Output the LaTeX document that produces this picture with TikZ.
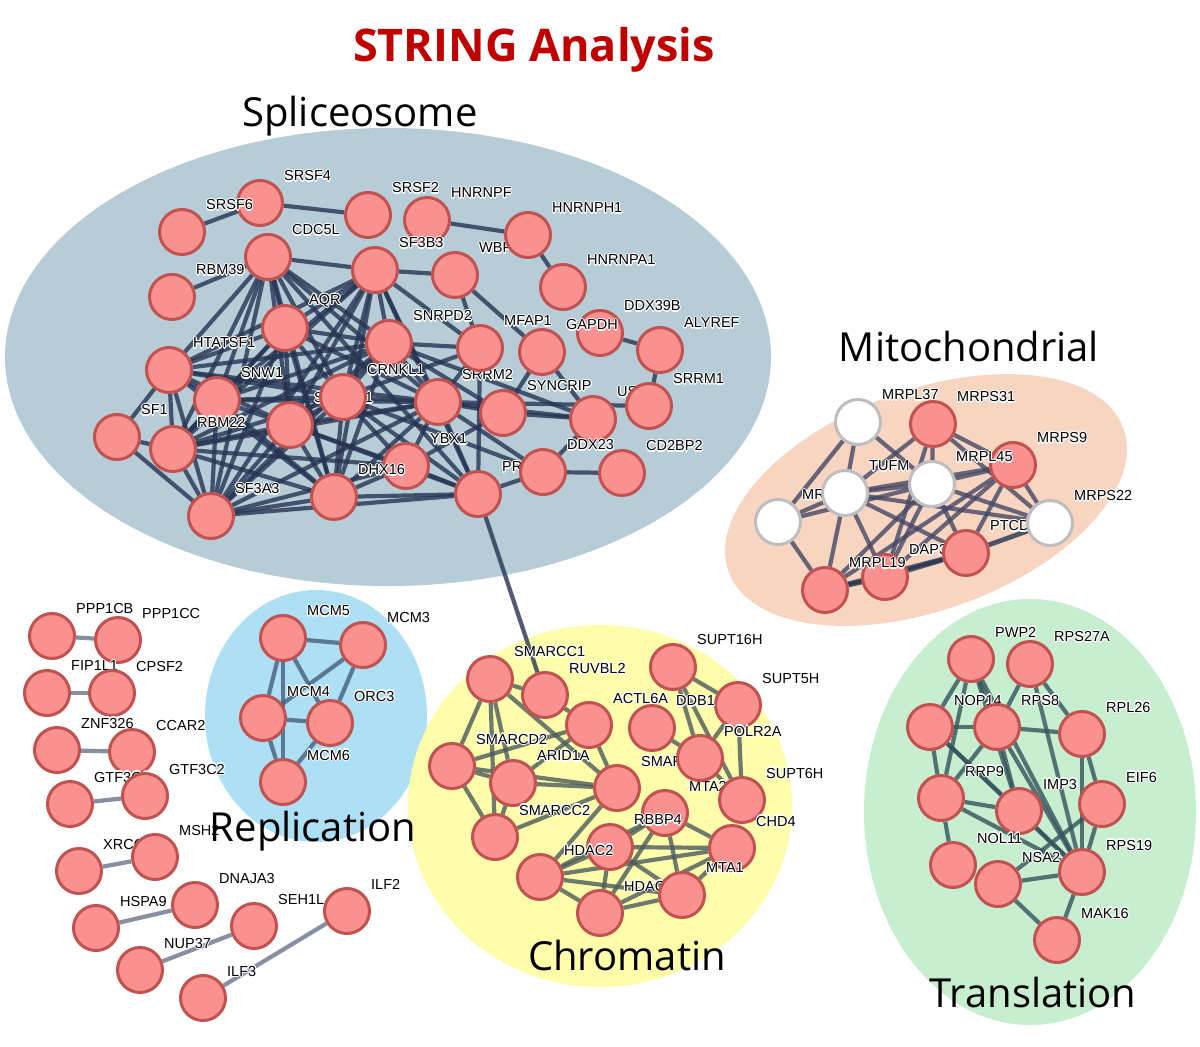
\documentclass[tikz,border=0pt]{standalone}
\usepackage{fontspec}
\setmainfont{Liberation Sans}
\newfontfamily\grpfont{Open Sans}
\pgfdeclarelayer{bg}
\pgfdeclarelayer{edges}
\pgfsetlayers{bg,edges,main}
\definecolor{nfill}{RGB}{250,145,145}
\definecolor{nedge}{RGB}{194,82,80}
\definecolor{wedge}{RGB}{190,190,190}
\definecolor{splfill}{RGB}{182,205,216}
\definecolor{mitfill}{RGB}{248,213,193}
\definecolor{repfill}{RGB}{173,224,245}
\definecolor{chrfill}{RGB}{253,253,170}
\definecolor{trafill}{RGB}{199,239,207}
\definecolor{spe}{RGB}{38,52,82}
\definecolor{mie}{RGB}{68,72,102}
\definecolor{rpe}{RGB}{70,95,125}
\definecolor{che}{RGB}{75,90,92}
\definecolor{tre}{RGB}{52,82,92}
\definecolor{ble}{RGB}{105,115,140}
\definecolor{titlered}{RGB}{192,0,0}
\newcommand\hcopy[3]{\rlap{\kern#1\raise#2\hbox{\color{white}#3}}}
\newcommand\halo[1]{\hcopy{-1.1pt}{0pt}{#1}\hcopy{1.1pt}{0pt}{#1}\hcopy{0pt}{1.1pt}{#1}\hcopy{0pt}{-1.1pt}{#1}\hcopy{-.8pt}{.8pt}{#1}\hcopy{.8pt}{.8pt}{#1}\hcopy{-.8pt}{-.8pt}{#1}\hcopy{.8pt}{-.8pt}{#1}#1}
\begin{document}
\begin{tikzpicture}[x=1pt,y=-1pt,
  pn/.style={circle,draw=nedge,fill=nfill,line width=3pt,minimum size=45pt,inner sep=0pt},
  wn/.style={pn,draw=wedge,fill=white},
  lbltxt/.style={anchor=west,yshift=27pt,inner sep=0pt,font=\fontsize{14.5}{14.5}\selectfont},
  lb/.style={label={[lbltxt]0:\halo{#1}}},
  ed/.style={line width=4.2pt,draw opacity=0.8},
  se/.style={ed,draw=spe},
  me/.style={ed,draw=mie},
  re/.style={ed,draw=rpe},
  ce/.style={ed,draw=che},
  te/.style={ed,draw=tre},
  be/.style={ed,draw=ble},
  grp/.style={anchor=base,font=\grpfont\fontsize{40}{40}\selectfont}
]
\useasboundingbox (0,0) rectangle (1200,1047);
\begin{pgfonlayer}{bg}
\fill[white] (0,0) rectangle (1200,1047);
\fill[splfill] (388,357) ellipse [x radius=383, y radius=229];
\fill[mitfill, rotate around={20:(926,500)}] (926,500) ellipse [x radius=210, y radius=110];
\fill[repfill] (316,716) ellipse [x radius=111, y radius=126];
\fill[chrfill] (600,806) ellipse [x radius=192, y radius=181];
\fill[trafill] (1030,812) ellipse [x radius=166, y radius=213];
\end{pgfonlayer}

% ---------------- Spliceosome ----------------
\node[pn,lb=SRSF4] (SRSF4) at (260,203) {};
\node[pn,lb=SRSF6] (SRSF6) at (182,232) {};
\node[pn,lb=SRSF2] (SRSF2) at (368,215) {};
\node[pn,lb=WBP11] (WBP11) at (455,275) {};
\node[pn,lb=HNRNPF] (HNRNPF) at (427,220) {};
\node[pn,lb=HNRNPH1] (HNRNPH1) at (528,235) {};
\node[pn,lb=HNRNPA1] (HNRNPA1) at (563,287) {};
\node[pn,lb=CDC5L,alias=c1] (CDC5L) at (268,257) {};
\node[pn,lb=SF3B3,alias=c2] (SF3B3) at (375,270) {};
\node[pn,lb=RBM39] (RBM39) at (172,297) {};
\node[pn,lb=AQR,alias=c3] (AQR) at (285,328) {};
\node[pn,lb=SRRM2,alias=c12] (SRRM2) at (438,402) {};
\node[pn,lb=SNRPD2,alias=c11] (SNRPD2) at (389,343) {};
\node[pn,lb=MFAP1] (MFAP1) at (480,348) {};
\node[pn,lb=DDX39B] (DDX39B) at (600,333) {};
\node[pn,lb=GAPDH] (GAPDH) at (542,352) {};
\node[pn,lb=ALYREF] (ALYREF) at (660,350) {};
\node[pn,lb=HTATSF1,alias=c10] (HTATSF1) at (169,370) {};
\node[pn,lb=SNW1,alias=c4] (SNW1) at (217,400) {};
\node[pn,lb=SNRPD1,alias=c6] (SNRPD1) at (290,425) {};
\node[pn,lb=CRNKL1,alias=c5] (CRNKL1) at (343,397) {};
\node[pn,lb=SYNCRIP] (SYNCRIP) at (503,413) {};
\node[pn,lb=USP39] (USP39) at (593,419) {};
\node[pn,lb=SRRM1] (SRRM1) at (649,406) {};
\node[pn,lb=SF1] (SF1) at (117,437) {};
\node[pn,lb=RBM22,alias=c7] (RBM22) at (173,449) {};
\node[pn,lb=YBX1] (YBX1) at (406,466) {};
\node[pn,lb=PRPF8] (PRPF8) at (478,494) {};
\node[pn,lb=DDX23] (DDX23) at (543,472) {};
\node[pn,lb=CD2BP2] (CD2BP2) at (622,473) {};
\node[pn,lb=DHX16,alias=c9] (DHX16) at (334,497) {};
\node[pn,lb=SF3A3,alias=c8] (SF3A3) at (211,516) {};

% ---------------- Mitochondrial ----------------
\node[wn,lb=MRPL38] (MRX) at (778,522) {};
\node[wn,lb=MRPL37] (MRPL37) at (858,422) {};
\node[pn,lb=MRPS31] (MRPS31) at (933,424) {};
\node[wn,lb=TUFM] (TUFM) at (845,493) {};
\node[pn,lb=MRPS9] (MRPS9) at (1013,465) {};
\node[wn,lb=MRPL45] (MRPL45) at (932,484) {};
\node[pn,lb=DAP3] (DAP3) at (885,577) {};
\node[pn,lb=PTCD3] (PTCD3) at (966,553) {};
\node[wn,lb=MRPS22] (MRPS22) at (1050,523) {};
\node[pn,lb=MRPL19] (MRPL19) at (825,590) {};

% ---------------- Replication ----------------
\node[pn,lb=MCM5] (MCM5) at (283,638) {};
\node[pn,lb=MCM3] (MCM3) at (363,645) {};
\node[pn,lb=MCM4] (MCM4) at (263,718) {};
\node[pn,lb=ORC3] (ORC3) at (330,723) {};
\node[pn,lb=MCM6] (MCM6) at (283,782) {};

% ---------------- Chromatin ----------------
\node[pn,lb=SMARCC1] (SMARCC1) at (490,679) {};
\node[pn,lb=RUVBL2] (RUVBL2) at (545,695) {};
\node[pn,lb=ACTL6A] (ACTL6A) at (589,725) {};
\node[pn,lb=SUPT16H] (SUPT16H) at (673,667) {};
\node[pn,lb=SUPT5H] (SUPT5H) at (738,705) {};
\node[pn,lb=DDB1] (DDB1) at (652,728) {};
\node[pn,lb=SMARCA5] (SMARCA5) at (617,788) {};
\node[pn,lb=MTA2] (MTA2) at (665,813) {};
\node[pn,lb=POLR2A] (POLR2A) at (700,758) {};
\node[pn,lb=SUPT6H] (SUPT6H) at (742,800) {};
\node[pn,lb=SMARCD2] (SMARCD2) at (452,766) {};
\node[pn,lb=ARID1A] (ARID1A) at (513,783) {};
\node[pn,lb=SMARCC2] (SMARCC2) at (495,837) {};
\node[pn,lb=RBBP4] (RBBP4) at (610,847) {};
\node[pn,lb=HDAC2] (HDAC2) at (540,877) {};
\node[pn,lb=HDAC1] (HDAC1) at (600,913) {};
\node[pn,lb=CHD4] (CHD4) at (732,848) {};
\node[pn,lb=MTA1] (MTA1) at (682,895) {};

% ---------------- Translation ----------------
\node[pn,lb=PWP2] (PWP2) at (971,659) {};
\node[pn,lb=RPS27A] (RPS27A) at (1030,664) {};
\node[pn,lb=NOP14] (NOP14) at (930,727) {};
\node[pn,lb=RPS8] (RPS8) at (997,727) {};
\node[pn,lb=RPL26] (RPL26) at (1082,734) {};
\node[pn,lb=RRP9] (RRP9) at (941,798) {};
\node[pn,lb=IMP3] (IMP3) at (1019,811) {};
\node[pn,lb=EIF6] (EIF6) at (1102,804) {};
\node[pn,lb=NOL11] (NOL11) at (953,865) {};
\node[pn,lb=RPS19] (RPS19) at (1082,872) {};
\node[pn,lb=NSA2] (NSA2) at (998,884) {};
\node[pn,lb=MAK16] (MAK16) at (1057,940) {};

% ---------------- Small pairs ----------------
\node[pn,lb=PPP1CB] (PPP1CB) at (52,636) {};
\node[pn,lb=PPP1CC] (PPP1CC) at (118,640) {};
\node[pn,lb=FIP1L1] (FIP1L1) at (47,693) {};
\node[pn,lb=CPSF2] (CPSF2) at (112,693) {};
\node[pn,lb=ZNF326] (ZNF326) at (57,750) {};
\node[pn,lb=CCAR2] (CCAR2) at (132,752) {};
\node[pn,lb=GTF3C1] (GTF3C1) at (70,804) {};
\node[pn,lb=GTF3C2] (GTF3C2) at (145,796) {};
\node[pn,lb=XRCC6] (XRCC6) at (79,871) {};
\node[pn,lb=MSH2] (MSH2) at (155,857) {};
\node[pn,lb=DNAJA3] (DNAJA3) at (195,905) {};
\node[pn,lb=HSPA9] (HSPA9) at (96,928) {};
\node[pn,lb=NUP37] (NUP37) at (140,970) {};
\node[pn,lb=SEH1L] (SEH1L) at (254,926) {};
\node[pn,lb=ILF3] (ILF3) at (203,998) {};
\node[pn,lb=ILF2] (ILF2) at (347,911) {};

% ---------------- Edges ----------------
\begin{pgfonlayer}{edges}
\foreach \i in {1,...,11}{
  \pgfmathtruncatemacro{\s}{\i+1}
  \foreach \j in {\s,...,12}{\draw[se] (c\i) -- (c\j);}
}
\foreach \a/\b in {SRSF6/SRSF4, SRSF4/SRSF2, HNRNPF/HNRNPH1, HNRNPH1/HNRNPA1,
  RBM39/CDC5L, SF3B3/WBP11, WBP11/GAPDH, WBP11/MFAP1, SF3B3/MFAP1, DDX39B/ALYREF,
  ALYREF/SRRM1, GAPDH/USP39, SYNCRIP/GAPDH, SRRM2/SRRM1, SRRM2/DDX23, CRNKL1/DDX23,
  MFAP1/PRPF8, SRRM2/PRPF8, YBX1/PRPF8, PRPF8/DDX23, DDX23/USP39, DDX23/CD2BP2,
  SYNCRIP/USP39, SYNCRIP/SRRM2, SYNCRIP/YBX1, SF1/HTATSF1, SF1/SF3A3, SF1/RBM22,
  PRPF8/SF3A3, PRPF8/DHX16, MFAP1/SNRPD2, MFAP1/SRRM2, SNRPD2/USP39, YBX1/SRRM2,
  YBX1/CRNKL1, YBX1/SNRPD1, YBX1/DHX16, PRPF8/CRNKL1, PRPF8/SNRPD1, PRPF8/SF3B3,
  PRPF8/CDC5L, MFAP1/CRNKL1, SNRPD2/SYNCRIP, SRRM2/USP39, YBX1/SF3A3, YBX1/RBM22,
  PRPF8/RUVBL2}
  \draw[se] (\a) -- (\b);
\foreach \a/\b in {MRPL37/TUFM, MRPL37/MRX, MRPL37/MRPL45, MRPS31/TUFM, MRPS31/MRPL45,
  MRPS31/MRPS9, MRPS31/MRPS22, MRPS31/DAP3, TUFM/MRPL45, TUFM/MRX, TUFM/MRPS9,
  TUFM/MRPL19, TUFM/DAP3, TUFM/PTCD3, TUFM/MRPS22, MRX/MRPL45, MRX/MRPL19,
  MRPL45/MRPL19, MRPL45/DAP3, MRPL45/PTCD3, MRPL45/MRPS9, MRPS9/MRPL19, MRPS9/DAP3,
  MRPS9/PTCD3, MRPS9/MRPS22, MRPL45/MRPS22}
  \draw[me] (\a) -- (\b);
\foreach \a/\b in {PTCD3/MRPS22, DAP3/PTCD3, MRPL19/DAP3, MRPL19/PTCD3}
  \draw[me, draw=spe, line width=4.8pt] (\a) -- (\b);
\foreach \a/\b in {MCM5/MCM3, MCM5/MCM4, MCM5/MCM6, MCM5/ORC3, MCM3/MCM4, MCM3/ORC3,
  MCM4/ORC3, MCM4/MCM6, ORC3/MCM6}
  \draw[re] (\a) -- (\b);
\foreach \a/\b in {SMARCC1/RUVBL2, SMARCC1/SMARCD2, SMARCC1/ARID1A, SMARCC1/SMARCC2,
  SMARCC1/SMARCA5, RUVBL2/ACTL6A, ACTL6A/SMARCA5, ACTL6A/SMARCD2, ACTL6A/ARID1A,
  SMARCD2/ARID1A, SMARCD2/SMARCA5, SMARCD2/SMARCC2, ARID1A/SMARCA5, ARID1A/SMARCC2,
  SMARCC2/SMARCA5, SMARCA5/HDAC2, SUPT16H/SUPT5H, SUPT16H/POLR2A, SUPT16H/SUPT6H,
  SUPT5H/POLR2A, SUPT5H/SUPT6H, POLR2A/SUPT6H, DDB1/POLR2A, MTA2/RBBP4, MTA2/HDAC2,
  MTA2/MTA1, MTA2/HDAC1, MTA2/CHD4, RBBP4/HDAC2, RBBP4/CHD4, RBBP4/MTA1, RBBP4/HDAC1,
  HDAC2/HDAC1, HDAC2/MTA1, HDAC2/CHD4, CHD4/MTA1, HDAC1/MTA1, HDAC1/CHD4}
  \draw[ce] (\a) -- (\b);
\foreach \a/\b in {PWP2/NOP14, PWP2/RPS8, PWP2/RRP9, PWP2/IMP3, PWP2/RPS19,
  RPS27A/RPS8, RPS27A/RPL26, RPS27A/RPS19, NOP14/RPS8, NOP14/RRP9, NOP14/IMP3,
  NOP14/RPS19, RPS8/RPL26, RPS8/RRP9, RPS8/IMP3, RPS8/RPS19, RPL26/EIF6, RPL26/RPS19,
  RRP9/IMP3, RRP9/NOL11, RRP9/RPS19, IMP3/RPS19, EIF6/RPS19, EIF6/NSA2, NSA2/RPS19,
  NSA2/MAK16, RPS19/MAK16}
  \draw[te] (\a) -- (\b);
\foreach \a/\b in {PPP1CB/PPP1CC, FIP1L1/CPSF2, ZNF326/CCAR2, GTF3C1/GTF3C2,
  XRCC6/MSH2, HSPA9/DNAJA3, NUP37/SEH1L, ILF3/ILF2}
  \draw[be] (\a) -- (\b);
\end{pgfonlayer}

% ---------------- Titles ----------------
\node[anchor=base,text=titlered,font=\grpfont\bfseries\fontsize{45}{45}\selectfont] (title) at (534,61) {STRING Analysis};
\node[grp] (gSpl) at (360,126) {Spliceosome};
\node[grp] (gMit) at (969,361) {Mitochondrial};
\node[grp] (gRep) at (313,841) {Replication};
\node[grp] (gChr) at (627,970) {Chromatin};
\node[grp] (gTra) at (1033,1007) {Translation};
\end{tikzpicture}
\end{document}
